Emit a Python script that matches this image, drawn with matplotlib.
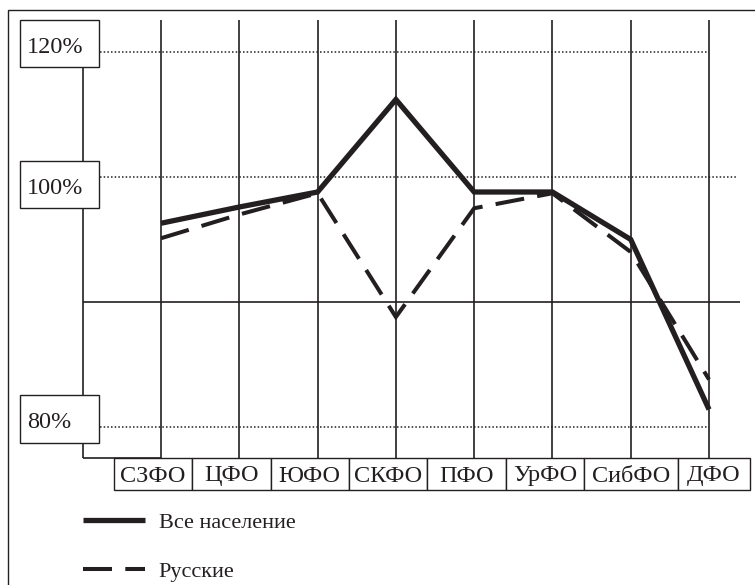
import numpy as np
import matplotlib.pyplot as plt
from matplotlib.patches import Rectangle
from matplotlib.transforms import offset_copy

# values, % of the national level
districts = ['СЗФО', 'ЦФО', 'ЮФО', 'СКФО', 'ПФО', 'УрФО', 'СибФО', 'ДФО']
all_population = [96.3, 97.6, 98.8, 112.4, 98.8, 98.8, 95.0, 81.4]
russians = [95.1, 97.0, 98.7, 88.8, 97.5, 98.7, 94.0, 83.8]
tick_values = [120, 100, 80]
tick_labels = ['120%', '100%', '80%']
series_labels = ['Все население', 'Русские']

INK = '#231f20'
plt.rcParams['font.family'] = ['Liberation Serif', 'DejaVu Serif']


def fwd(v):
    # the part above 100% is drawn at half the scale of the part below
    v = np.asarray(v, dtype=float)
    return np.where(v <= 100, v, 100 + (v - 100) / 2)


def inv(f):
    f = np.asarray(f, dtype=float)
    return np.where(f <= 100, f, 100 + (f - 100) * 2)


fig = plt.figure(figsize=(7.55, 5.85), dpi=100)
ax = fig.add_axes([0, 0, 1, 1])
ax.set_yscale('function', functions=(fwd, inv))
ax.set_xlim(-2.0565, 7.587)
ax.set_ylim(67.36, 128.32)
ax.axis('off')

# outer frame
fig.patches.append(Rectangle((8 / 755, -0.1), 1.2, 1.1 - 10 / 585, transform=fig.transFigure,
                             fill=False, edgecolor=INK, lw=1.0))

x = np.arange(len(districts))
bottom, top = 77.5, 125.1

# grid
ax.vlines(x, bottom, top, color=INK, lw=1.2, zorder=1)
ax.vlines(-1.0, bottom, 120, color=INK, lw=1.2, zorder=1)
ax.hlines(bottom, -1.0, 0, color=INK, lw=1.2, zorder=1)
ax.hlines(90, -1.0, 7.40, color=INK, lw=1.2, zorder=1)
dot_ends = [7.0, 7.36, 7.0]
for v, xe in zip(tick_values, dot_ends):
    ax.hlines(v, -0.78, xe, color=INK, lw=1.1, linestyle=(0, (1, 1.4)), zorder=1)

# y labels in boxes
label_boxes = [(117.6, 125.1), (97.5, 102.6), (78.7, 82.6)]
label_lift = [14, 14, 15]
for lab, (y0, y1), lift in zip(tick_labels, label_boxes, label_lift):
    ax.add_patch(Rectangle((-1.80, y0), 1.01, y1 - y0, facecolor='white',
                           edgecolor=INK, lw=1.0, zorder=3))
    tr = offset_copy(ax.transData, fig, x=0, y=lift, units='dots')
    ax.text(-1.71, y0, lab, fontsize=17.5, color=INK, va='baseline', ha='left',
            transform=tr, zorder=4)

# district names in boxes
box_edges = [-0.60, 0.40, 1.40, 2.40, 3.40, 4.41, 5.40, 6.60, 7.52]
name_tr = offset_copy(ax.transData, fig, x=0, y=8, units='dots')
for i, name in enumerate(districts):
    x0, x1 = box_edges[i], box_edges[i + 1]
    ax.add_patch(Rectangle((x0, 75.0), x1 - x0, bottom - 75.0, facecolor='white',
                           edgecolor=INK, lw=1.0, zorder=3))
    ax.text((x0 + x1) / 2, 75.0, name, fontsize=17.5, color=INK,
            ha='center', va='baseline', transform=name_tr, zorder=4)

# the two series
ax.plot(x, all_population, color=INK, lw=3.8, solid_joinstyle='miter',
        solid_capstyle='butt', zorder=5, label=series_labels[0])
ax.plot(x, russians, color=INK, lw=2.9, dashes=(7.2, 3.3), dash_joinstyle='miter',
        dash_capstyle='butt', zorder=5, label=series_labels[1])

ax.legend(loc='upper left', bbox_to_anchor=(83 / 755, 1 - 512 / 585),
          bbox_transform=fig.transFigure, frameon=False, fontsize=16,
          handlelength=2.8, handletextpad=0.6, labelspacing=1.3,
          borderpad=0, borderaxespad=0, labelcolor=INK)

fig.savefig('out.png', dpi=100)
